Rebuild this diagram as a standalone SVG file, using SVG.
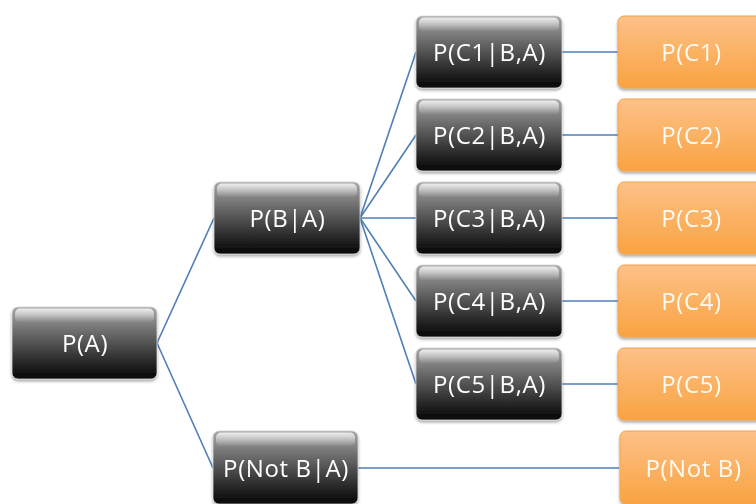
<svg xmlns="http://www.w3.org/2000/svg" width="756" height="504" viewBox="0 0 756 504">
  <defs>
    <linearGradient id="darkFill" x1="0" y1="0" x2="0" y2="1">
      <stop offset="0" stop-color="#a8a8a8"/>
      <stop offset="0.3" stop-color="#737373"/>
      <stop offset="0.7" stop-color="#323232"/>
      <stop offset="1" stop-color="#050505"/>
    </linearGradient>
    <linearGradient id="gloss" x1="0" y1="0" x2="0" y2="1">
      <stop offset="0" stop-color="#ffffff" stop-opacity="0.8"/>
      <stop offset="1" stop-color="#ffffff" stop-opacity="0"/>
    </linearGradient>
    <linearGradient id="orangeFill" x1="0" y1="0" x2="0" y2="1">
      <stop offset="0" stop-color="#fdc188"/>
      <stop offset="1" stop-color="#f9a341"/>
    </linearGradient>
    <filter id="shadow" x="-10%" y="-10%" width="120%" height="130%">
      <feGaussianBlur in="SourceAlpha" stdDeviation="1.5"/>
      <feOffset dy="2" result="b"/>
      <feComponentTransfer><feFuncA type="linear" slope="0.35"/></feComponentTransfer>
      <feMerge><feMergeNode/><feMergeNode in="SourceGraphic"/></feMerge>
    </filter>
  </defs>
  <style>
    .dark rect.body { fill: url(#darkFill); stroke: #d8d8d8; stroke-width: 0.8; }
    .dark rect.gl { fill: url(#gloss); }
    .orange rect { fill: url(#orangeFill); stroke: #f4a24a; stroke-width: 1; }
    text { font-family: "Open Sans", "DejaVu Sans", sans-serif; font-size: 24px; letter-spacing: 0.6px; fill: #ffffff; text-anchor: middle; }
    .orange text { fill: #fffaf2; }
    .conn line { stroke: #4f7fb8; stroke-width: 1.6; }
  </style>

  <rect width="756" height="504" fill="#ffffff"/>

  <!-- connectors -->
  <g id="connectors" class="conn">
    <line x1="157" y1="343" x2="214" y2="218"/>
    <line x1="157" y1="343" x2="213" y2="468"/>
    <line x1="360" y1="218" x2="416" y2="52"/>
    <line x1="360" y1="218" x2="416" y2="135"/>
    <line x1="360" y1="218" x2="416" y2="218"/>
    <line x1="360" y1="218" x2="416" y2="301"/>
    <line x1="360" y1="218" x2="416" y2="384"/>
    <line x1="562" y1="52" x2="618" y2="52"/>
    <line x1="562" y1="135" x2="618" y2="135"/>
    <line x1="562" y1="218" x2="618" y2="218"/>
    <line x1="562" y1="301" x2="618" y2="301"/>
    <line x1="562" y1="384" x2="618" y2="384"/>
    <line x1="358" y1="468" x2="619" y2="468"/>
  </g>

  <!-- root -->
  <g id="pA" class="dark" filter="url(#shadow)">
    <rect class="body" x="12" y="307" width="145" height="72" rx="6"/>
    <rect class="gl" x="15" y="308.5" width="139" height="14" rx="5"/>
    <text x="85" y="352">P(A)</text>
  </g>

  <!-- second level -->
  <g id="pBA" class="dark" filter="url(#shadow)">
    <rect class="body" x="214" y="182" width="146" height="72" rx="6"/>
    <rect class="gl" x="217" y="183.5" width="140" height="14" rx="5"/>
    <text x="287.5" y="227">P(B|A)</text>
  </g>
  <g id="pNotBA" class="dark" filter="url(#shadow)">
    <rect class="body" x="213" y="431" width="145" height="73" rx="6"/>
    <rect class="gl" x="216" y="432.5" width="139" height="14" rx="5"/>
    <text x="286" y="477">P(Not B|A)</text>
  </g>

  <!-- third level -->
  <g id="pC1BA" class="dark" filter="url(#shadow)">
    <rect class="body" x="416" y="16" width="146" height="72" rx="6"/>
    <rect class="gl" x="419" y="17.5" width="140" height="14" rx="5"/>
    <text x="489.5" y="61">P(C1|B,A)</text>
  </g>
  <g id="pC2BA" class="dark" filter="url(#shadow)">
    <rect class="body" x="416" y="99" width="146" height="72" rx="6"/>
    <rect class="gl" x="419" y="100.5" width="140" height="14" rx="5"/>
    <text x="489.5" y="144">P(C2|B,A)</text>
  </g>
  <g id="pC3BA" class="dark" filter="url(#shadow)">
    <rect class="body" x="416" y="182" width="146" height="72" rx="6"/>
    <rect class="gl" x="419" y="183.5" width="140" height="14" rx="5"/>
    <text x="489.5" y="227">P(C3|B,A)</text>
  </g>
  <g id="pC4BA" class="dark" filter="url(#shadow)">
    <rect class="body" x="416" y="265" width="146" height="72" rx="6"/>
    <rect class="gl" x="419" y="266.5" width="140" height="14" rx="5"/>
    <text x="489.5" y="310">P(C4|B,A)</text>
  </g>
  <g id="pC5BA" class="dark" filter="url(#shadow)">
    <rect class="body" x="416" y="348" width="146" height="72" rx="6"/>
    <rect class="gl" x="419" y="349.5" width="140" height="14" rx="5"/>
    <text x="489.5" y="393">P(C5|B,A)</text>
  </g>

  <!-- leaves -->
  <g id="pC1" class="orange" filter="url(#shadow)">
    <rect x="618" y="16" width="146" height="72" rx="6"/>
    <text x="691.5" y="61">P(C1)</text>
  </g>
  <g id="pC2" class="orange" filter="url(#shadow)">
    <rect x="618" y="99" width="146" height="72" rx="6"/>
    <text x="691.5" y="144">P(C2)</text>
  </g>
  <g id="pC3" class="orange" filter="url(#shadow)">
    <rect x="618" y="182" width="146" height="72" rx="6"/>
    <text x="691.5" y="227">P(C3)</text>
  </g>
  <g id="pC4" class="orange" filter="url(#shadow)">
    <rect x="618" y="265" width="146" height="72" rx="6"/>
    <text x="691.5" y="310">P(C4)</text>
  </g>
  <g id="pC5" class="orange" filter="url(#shadow)">
    <rect x="618" y="348" width="146" height="72" rx="6"/>
    <text x="691.5" y="393">P(C5)</text>
  </g>
  <g id="pNotB" class="orange" filter="url(#shadow)">
    <rect x="620" y="431" width="146" height="73" rx="6"/>
    <text x="693.5" y="477">P(Not B)</text>
  </g>
</svg>
